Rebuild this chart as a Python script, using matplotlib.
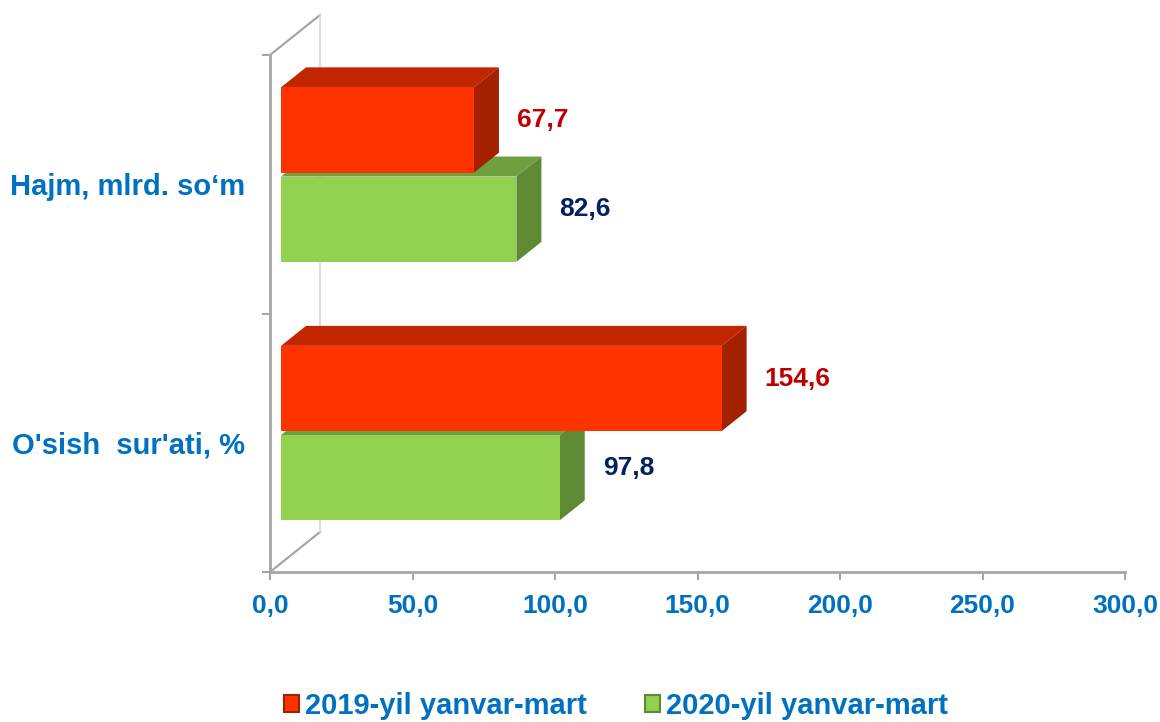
import matplotlib
matplotlib.use("Agg")
import matplotlib.pyplot as plt
from matplotlib.patches import Polygon, Patch

categories = ["O'sish  sur'ati, %", "Hajm, mlrd. so\u2018m"]
series_names = ["2019-yil yanvar-mart", "2020-yil yanvar-mart"]
values_2019 = [154.6, 67.7]
values_2020 = [97.8, 82.6]
x_ticks = [0, 50, 100, 150, 200, 250, 300]

plt.rcParams['font.family'] = ['Liberation Sans', 'DejaVu Sans']
plt.rcParams['font.weight'] = 'bold'

BLUE = '#0070C0'
AXIS = '#A6A6A6'
red_cols = ('#FF3300', '#C22600', '#A32000')
green_cols = ('#92D050', '#6FA040', '#5E8A33')

W, H = 1160, 722
fig = plt.figure(figsize=(W / 100, H / 100), dpi=100)
x0, x1, y0, y1 = 270, 1125, 572, 55
ax = fig.add_axes([x0 / W, 1 - y0 / H, (x1 - x0) / W, (y0 - y1) / H])
ax.set_xlim(0, 300)
ax.set_ylim(0, 2)

# pixel -> data units
px = 300 / (x1 - x0)
py = 2 / (y0 - y1)

front_dx, front_dy = 11 * px, 9 * py
depth_dx, depth_dy = 25 * px, 20 * py
wall_dx, wall_dy = 50 * px, 40 * py

# 3D frame lines
ax.plot([0, wall_dx], [2, 2 + wall_dy], color=AXIS, lw=1.6, clip_on=False, zorder=1)
ax.plot([0, wall_dx], [0, wall_dy], color=AXIS, lw=1.6, clip_on=False, zorder=1)
ax.plot([wall_dx, wall_dx], [wall_dy, 2 + wall_dy], color='#D9D9D9', lw=1.2, clip_on=False, zorder=1)

bar_h = 0.33
cat_pos = [0.5, 1.5]


def draw_bars(vals, offset, cols, label_color, zo):
    ys = [c + offset + front_dy for c in cat_pos]
    ax.barh(ys, vals, height=bar_h, left=front_dx, color=cols[0],
            edgecolor='none', zorder=zo + 0.2)
    for v, yc in zip(vals, ys):
        xl, xr = front_dx, front_dx + v
        yb, yt = yc - bar_h / 2, yc + bar_h / 2
        top = Polygon([(xl, yt), (xr, yt), (xr + depth_dx, yt + depth_dy),
                       (xl + depth_dx, yt + depth_dy)], closed=True,
                      facecolor=cols[1], edgecolor='none', zorder=zo, clip_on=False)
        side = Polygon([(xr, yb), (xr, yt), (xr + depth_dx, yt + depth_dy),
                        (xr + depth_dx, yb + depth_dy)], closed=True,
                       facecolor=cols[2], edgecolor='none', zorder=zo + 0.1, clip_on=False)
        ax.add_patch(top)
        ax.add_patch(side)
        ax.text(xr + depth_dx + 18 * px, yc + 10 * py, f"{v:.1f}".replace('.', ','),
                color=label_color, fontsize=19, fontweight='bold',
                ha='left', va='center', zorder=5)


draw_bars(values_2020, -0.17, green_cols, '#002060', 2)
draw_bars(values_2019, 0.175, red_cols, '#C00000', 3)

for s in ['top', 'right']:
    ax.spines[s].set_visible(False)
for s in ['left', 'bottom']:
    ax.spines[s].set_color(AXIS)
    ax.spines[s].set_linewidth(2)

ax.set_xticks(x_ticks)
ax.set_xticklabels([f"{t:.1f}".replace('.', ',') for t in x_ticks],
                   color=BLUE, fontsize=19, fontweight='bold')
ax.tick_params(axis='x', length=6, width=1.5, color=AXIS, pad=10)

ax.set_yticks([0, 1, 2])
ax.set_yticklabels([])
ax.tick_params(axis='y', which='major', length=6, width=1.5, color=AXIS)
ax.set_yticks(cat_pos, minor=True)
ax.set_yticklabels(categories, minor=True, color=BLUE, fontsize=21, fontweight='bold')
ax.tick_params(axis='y', which='minor', length=0, pad=18)

handles = [Patch(facecolor=red_cols[0], edgecolor=red_cols[2], linewidth=1.5),
           Patch(facecolor=green_cols[0], edgecolor=green_cols[2], linewidth=1.5)]
leg = fig.legend(handles, series_names, loc='center', bbox_to_anchor=(616 / W, 1 - 706 / H),
                 ncol=2, frameon=False, fontsize=21, handlelength=0.5, handleheight=0.5,
                 handletextpad=0.2, columnspacing=2.0)
for t in leg.get_texts():
    t.set_color(BLUE)
    t.set_fontweight('bold')

fig.savefig('out.png', dpi=100)
